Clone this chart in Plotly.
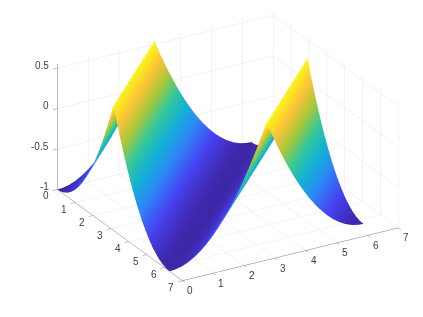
import plotly.graph_objects as go

profile = [-1.0, -0.994, -0.976, -0.946, -0.903, -0.849, -0.782, -0.703, -0.613,
           -0.510, -0.395, -0.268, -0.128, 0.024, 0.187, 0.362, 0.55,
           0.362, 0.187, 0.024, -0.128, -0.268, -0.395, -0.510, -0.613,
           -0.703, -0.782, -0.849, -0.903, -0.946, -0.976, -0.994]
grid = [0.0, 0.196, 0.393, 0.589, 0.785, 0.982, 1.178, 1.374, 1.571, 1.767, 1.963,
        2.160, 2.356, 2.553, 2.749, 2.945, 3.142, 3.338, 3.534, 3.731, 3.927, 4.123,
        4.320, 4.516, 4.712, 4.909, 5.105, 5.301, 5.498, 5.694, 5.890, 6.087, 6.283]
xy_ticks = [0, 1, 2, 3, 4, 5, 6, 7]
z_ticks = [-1, -0.5, 0, 0.5]
z_labels = ["-1", "-0.5", "0", "0.5"]
parula = ["#3e26a8", "#4743f3", "#2d87f7", "#12b1d6", "#37c897", "#abc739", "#fec338", "#f9fb15"]

z = [[profile[(i + j) % len(profile)] for i in range(len(grid))] for j in range(len(grid))]

scale = [[k / (len(parula) - 1), c] for k, c in enumerate(parula)]

fig = go.Figure(go.Surface(
    x=grid, y=grid, z=z, colorscale=scale, cmin=min(profile), cmax=max(profile),
    showscale=False, hoverinfo="skip",
    lighting=dict(ambient=1, diffuse=0, specular=0, roughness=1, fresnel=0),
    contours=dict(x=dict(highlight=False), y=dict(highlight=False), z=dict(highlight=False)),
))

def axis(tickvals, rng):
    return dict(
        range=rng, tickmode="array", tickvals=tickvals, showticklabels=False,
        title=dict(text=""), showbackground=False, showspikes=False,
        showline=True, linecolor="#7a7a7a", linewidth=1,
        showgrid=True, gridcolor="#e6e6e6", gridwidth=1, zeroline=False,
        ticks="outside", ticklen=5, tickcolor="#7a7a7a", tickwidth=1,
    )

font = dict(family="Liberation Sans", size=10, color="#404040")

def label(x, y, zv, text, xshift, yshift, xanchor="center"):
    return dict(x=x, y=y, z=zv, text=text, showarrow=False, font=font,
                xanchor=xanchor, yanchor="middle", xshift=xshift, yshift=yshift)

notes = []
for v in xy_ticks:
    notes.append(label(v, 0, -1, str(v), -11, -6.5))
    notes.append(label(7, v, -1, str(v), 8, -10))
for v, t in zip(z_ticks, z_labels):
    notes.append(label(0, 0, v, t, -6, 3, "right"))

fig.update_layout(
    width=423, height=317, margin=dict(l=0, r=0, t=0, b=0),
    paper_bgcolor="white", showlegend=False,
    scene=dict(
        domain=dict(x=[0, 1], y=[0, 1]),
        xaxis=axis(xy_ticks, [0, 7]),
        yaxis=axis(xy_ticks, [0, 7]),
        zaxis=axis(z_ticks, [-1, 0.55]),
        aspectmode="manual", aspectratio=dict(x=1.575, y=1.575, z=0.873),
        camera=dict(
            projection=dict(type="orthographic"),
            eye=dict(x=0.973, y=-0.6245, z=0.395),
            center=dict(x=0.022, y=-0.0735, z=-0.117),
            up=dict(x=0, y=0, z=1),
        ),
        annotations=notes,
    ),
)
fig.write_html("out.html", config=dict(displayModeBar=False))
